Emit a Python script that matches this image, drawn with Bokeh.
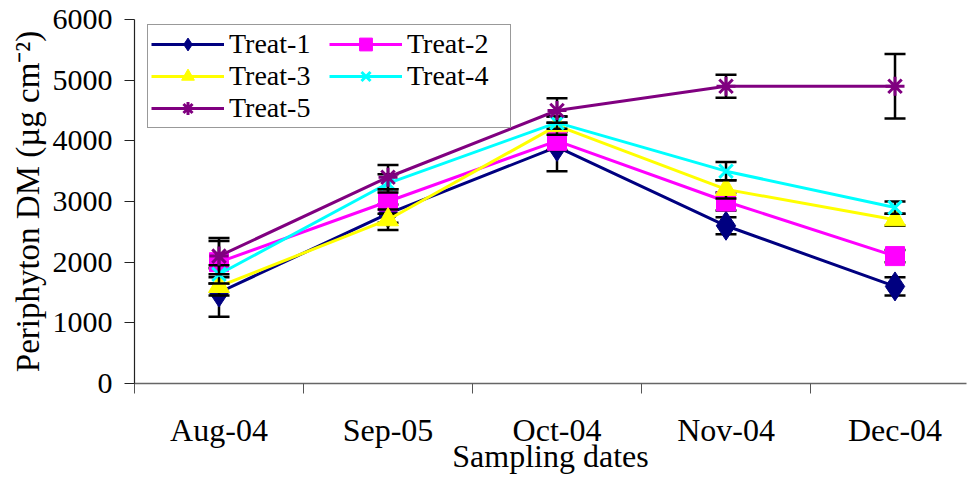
from bokeh.plotting import figure
from bokeh.models import (FixedTicker, Legend, LegendItem, Range1d)
from bokeh.embed import file_html
from bokeh.resources import INLINE

dates = ["Aug-04", "Sep-05", "Oct-04", "Nov-04", "Dec-04"]
series_names = ["Treat-1", "Treat-2", "Treat-3", "Treat-4", "Treat-5"]
treat1 = [1500, 2800, 3900, 2600, 1600]
treat1_err = [400, 150, 400, 140, 150]
treat2 = [2000, 3000, 4000, 3000, 2100]
treat2_err = [350, 200, 150, 150, 100]
treat3 = [1600, 2700, 4250, 3200, 2700]
treat3_err = [150, 170, 150, 150, 100]
treat4 = [1800, 3300, 4300, 3500, 2900]
treat4_err = [150, 150, 100, 150, 100]
treat5 = [2100, 3400, 4500, 4900, 4900]
treat5_err = [300, 200, 200, 190, 530]
y_ticks = [0, 1000, 2000, 3000, 4000, 5000, 6000]

colors = ["#000080", "#FF00FF", "#FFFF00", "#00FFFF", "#800080"]
markers = ["diamond", "square", "triangle", "x", "asterisk"]
sizes = [29, 19, 21, 19, 19]
values = [treat1, treat2, treat3, treat4, treat5]
errors = [treat1_err, treat2_err, treat3_err, treat4_err, treat5_err]

FONT = "Liberation Serif"
xs = list(range(len(dates)))

p = figure(width=968, height=479, output_backend="svg", toolbar_location=None,
           x_range=Range1d(-0.5, 4.423), y_range=Range1d(0, 6000),
           min_border_left=134, min_border_right=2, min_border_top=19,
           min_border_bottom=96)
p.outline_line_color = None
p.xgrid.visible = False
p.ygrid.visible = False
p.background_fill_color = "white"
p.border_fill_color = "white"

# x axis: labels at category centres, tick marks at category boundaries
xa = p.xaxis[0]
xa.ticker = FixedTicker(ticks=xs, minor_ticks=[i - 0.5 for i in xs])
xa.major_label_overrides = {i: d for i, d in zip(xs, dates)}
xa.major_tick_out = 0
xa.major_tick_in = 0
xa.minor_tick_out = 10
xa.minor_tick_in = 0
xa.minor_tick_line_color = "#555555"
xa.axis_line_color = "#666666"
xa.axis_line_width = 1.5
xa.major_label_text_font = FONT
xa.major_label_text_font_size = "32px"
xa.major_label_text_color = "black"
xa.major_label_standoff = 18
xa.axis_label = "Sampling dates"
xa.axis_label_text_font = FONT
xa.axis_label_text_font_size = "32px"
xa.axis_label_text_font_style = "normal"
xa.axis_label_text_color = "black"
xa.axis_label_standoff = -13

ya = p.yaxis[0]
ya.ticker = FixedTicker(ticks=y_ticks, minor_ticks=[])
ya.major_tick_out = 10
ya.major_tick_in = 0
ya.axis_line_color = "#222222"
ya.major_tick_line_color = "#222222"
ya.axis_line_width = 1.2
ya.major_label_text_font = FONT
ya.major_label_text_font_size = "30px"
ya.major_label_text_color = "black"
ya.major_label_standoff = 12
ya.axis_label = "Periphyton DM (µg cm⁻²)"
ya.axis_label_text_font = FONT
ya.axis_label_text_font_size = "33px"
ya.axis_label_text_font_style = "normal"
ya.axis_label_text_color = "black"
ya.axis_label_standoff = 4

items = {}
for name, vals, errs, col, mk, sz in zip(series_names, values, errors, colors, markers, sizes):
    lo = [v - e for v, e in zip(vals, errs)]
    hi = [v + e for v, e in zip(vals, errs)]
    p.segment(x0=xs, y0=lo, x1=xs, y1=hi, line_color="black", line_width=2.5)
    p.scatter(x=xs, y=lo, marker="dash", size=21, line_color="black", line_width=2.5)
    p.scatter(x=xs, y=hi, marker="dash", size=21, line_color="black", line_width=2.5)
    lr = p.line(x=xs, y=vals, line_color=col, line_width=3)
    if mk in ("x", "asterisk"):
        mr = p.scatter(x=xs, y=vals, marker=mk, size=sz, line_color=col, line_width=3)
    else:
        mr = p.scatter(x=xs, y=vals, marker=mk, size=sz, fill_color=col, line_color=col)
    items[name] = LegendItem(label=name, renderers=[lr, mr])

# legend fills column by column: reorder so rows read Treat-1 Treat-2 / Treat-3 Treat-4 / Treat-5
order = ["Treat-1", "Treat-3", "Treat-5", "Treat-2", "Treat-4"]
legend = Legend(items=[items[n] for n in order], ncols=2, location=(13, 255),
                label_text_font=FONT, label_text_font_size="28px",
                label_text_color="black", glyph_width=73, glyph_height=32,
                label_standoff=5, label_width=100, spacing=0, padding=3, margin=0,
                border_line_color="#333333", border_line_width=1.5,
                background_fill_color="white", background_fill_alpha=1.0)
p.add_layout(legend, "center")

open("out.html", "w").write(file_html(p, INLINE))
